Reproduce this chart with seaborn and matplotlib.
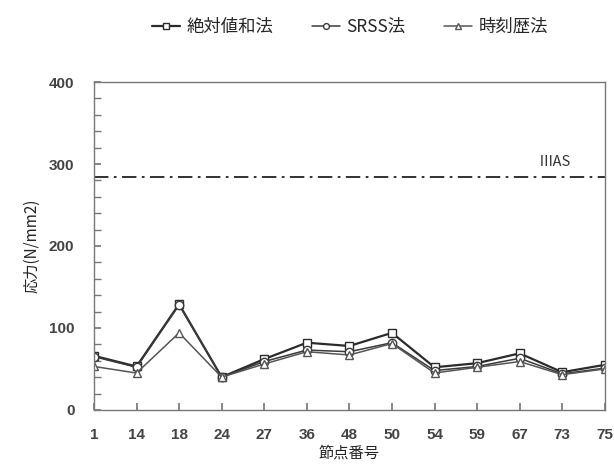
import numpy as np
import pandas as pd
import seaborn as sns
import matplotlib.pyplot as plt

nodes = ["1", "14", "18", "24", "27", "36", "48", "50", "54", "59", "67", "73", "75"]
abs_sum = [66, 53, 129, 40, 62, 82, 78, 94, 52, 57, 69, 46, 55]
srss = [65, 52, 128, 40, 59, 73, 71, 82, 48, 53, 63, 44, 51]
time_hist = [53, 45, 94, 40, 56, 71, 67, 81, 45, 52, 59, 43, 50]
series_names = ["絶対値和法", "SRSS法", "時刻歴法"]
limit_value = 284
limit_label = "ⅢAS"

sns.set_theme(style="white")
plt.rcParams['font.family'] = ['Noto Sans CJK JP', 'DejaVu Sans']

df = pd.DataFrame({
    "pos": list(range(len(nodes))) * 3,
    "value": abs_sum + srss + time_hist,
    "method": [series_names[0]] * len(nodes) + [series_names[1]] * len(nodes) + [series_names[2]] * len(nodes),
})

fig = plt.figure(figsize=(6.14, 4.69), dpi=100)
ax = fig.add_axes([0.153, 0.126, 0.832, 0.699])

styles = {
    series_names[0]: dict(marker="s", lw=1.6, color="#2b2b2b"),
    series_names[1]: dict(marker="o", lw=1.1, color="#3a3a3a"),
    series_names[2]: dict(marker="^", lw=1.1, color="#555555"),
}
for name in series_names:
    st = styles[name]
    sns.lineplot(data=df[df["method"] == name], x="pos", y="value", ax=ax,
                 color=st["color"], lw=st["lw"], marker=st["marker"], markersize=6,
                 markerfacecolor="white", markeredgecolor=st["color"], markeredgewidth=1.0,
                 label=name)

ax.axhline(limit_value, color="#222222", lw=1.3, ls=(0, (8, 3, 1.5, 3)))
ax.text(10.45, limit_value + 10, limit_label, fontsize=10.5, color="#333333", va="bottom")

ax.set_xlim(0, len(nodes) - 1)
ax.set_ylim(0, 400)
ax.set_xticks(range(len(nodes)))
ax.set_xticklabels(nodes)
ax.set_yticks(np.arange(0, 401, 100))
ax.set_yticks(np.arange(0, 401, 20), minor=True)
for lab in ax.get_xticklabels() + ax.get_yticklabels():
    lab.set_family(['Liberation Sans', 'DejaVu Sans'])
    lab.set_fontweight('bold')
    lab.set_color('#444444')
    lab.set_fontsize(11)
ax.tick_params(axis="y", which="major", direction="in", length=5, left=True, pad=14, color="#777777")
ax.tick_params(axis="y", which="minor", direction="in", length=5, left=True, color="#777777")
ax.tick_params(axis="x", direction="in", length=5, bottom=True, pad=13, color="#777777")
for s in ax.spines.values():
    s.set_color("#777777")
    s.set_linewidth(1.0)

ax.set_xlabel("節点番号", fontsize=11, color="#222222", labelpad=2)
ax.set_ylabel("応力(N/mm2)", fontsize=11, color="#222222")
ax.yaxis.set_label_coords(-0.105, 0.5)

handles, labels = ax.get_legend_handles_labels()
ax.get_legend().remove()
fig.legend(handles, labels, loc="upper center", bbox_to_anchor=(0.57, 0.995), ncol=3,
           frameon=False, fontsize=12.5, handlelength=1.6, handletextpad=0.4,
           columnspacing=2.2, markerscale=0.7)

fig.savefig("out.png", dpi=100)
